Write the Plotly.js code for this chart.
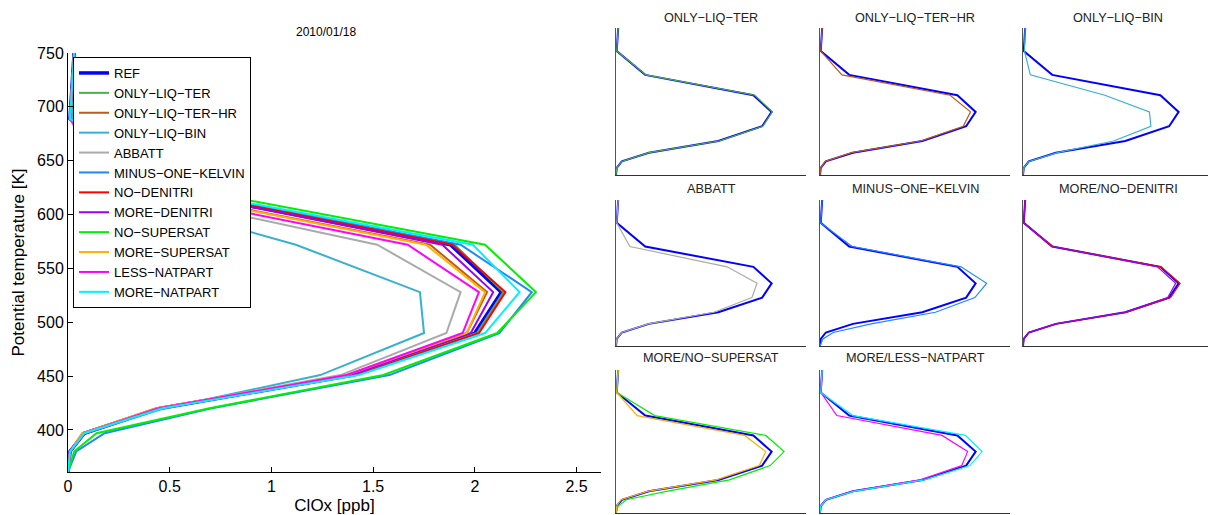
<!DOCTYPE html>
<html>
<head>
<meta charset="utf-8">
<script src="https://cdn.plot.ly/plotly-3.0.1.min.js"></script>
<style>html,body{margin:0;padding:0;background:#fff;}#chart{width:1208px;height:515px;}</style>
</head>
<body>
<div id="chart"></div>
<script>
// Potential temperature levels [K]
const theta = [361, 380, 397, 420, 451, 490, 528, 572, 626, 689, 750];

// ClOx [ppb] per experiment
const REF              = [0, 0.01, 0.08, 0.45, 1.40, 2.00, 2.13, 1.88, 0.40, 0.01, 0.03];
const ONLY_LIQ_TER     = [0, 0.01, 0.08, 0.45, 1.41, 2.01, 2.14, 1.90, 0.41, 0.01, 0.03];
const ONLY_LIQ_TER_HR  = [0, 0.01, 0.07, 0.43, 1.38, 1.96, 2.06, 1.78, 0.30, 0.01, 0.03];
const ONLY_LIQ_BIN     = [0, 0.01, 0.08, 0.47, 1.24, 1.75, 1.73, 1.12, 0.10, 0.02, 0.03];
const ABBATT           = [0, 0.01, 0.08, 0.44, 1.34, 1.86, 1.93, 1.52, 0.19, 0.01, 0.03];
const MINUS_ONE_KELVIN = [0, 0.04, 0.18, 0.70, 1.58, 2.12, 2.28, 1.93, 0.44, 0.01, 0.03];
const NO_DENITRI       = [0, 0.01, 0.08, 0.45, 1.42, 2.02, 2.15, 1.89, 0.41, 0.01, 0.03];
const MORE_DENITRI     = [0, 0.01, 0.08, 0.45, 1.39, 1.98, 2.09, 1.84, 0.39, 0.01, 0.03];
const NO_SUPERSAT      = [0, 0.03, 0.14, 0.69, 1.55, 2.11, 2.30, 2.05, 0.53, 0.01, 0.03];
const MORE_SUPERSAT    = [0, 0.01, 0.07, 0.43, 1.37, 1.96, 2.05, 1.76, 0.29, 0.01, 0.03];
const LESS_NATPART     = [0, 0.01, 0.08, 0.44, 1.37, 1.94, 2.02, 1.67, 0.23, 0.01, 0.03];
const MORE_NATPART     = [0, 0.01, 0.08, 0.46, 1.43, 2.05, 2.22, 1.99, 0.45, 0.01, 0.03];

const seriesNames = ['REF','ONLY−LIQ−TER','ONLY−LIQ−TER−HR','ONLY−LIQ−BIN','ABBATT','MINUS−ONE−KELVIN',
  'NO−DENITRI','MORE−DENITRI','NO−SUPERSAT','MORE−SUPERSAT','LESS−NATPART','MORE−NATPART'];
const seriesValues = [REF, ONLY_LIQ_TER, ONLY_LIQ_TER_HR, ONLY_LIQ_BIN, ABBATT, MINUS_ONE_KELVIN,
  NO_DENITRI, MORE_DENITRI, NO_SUPERSAT, MORE_SUPERSAT, LESS_NATPART, MORE_NATPART];
const seriesColors = ['#0000FF','#4DAF4A','#C05A14','#38B0CF','#AAAAAA','#1E88FF',
  '#FF0000','#9B00F0','#00F000','#FFB000','#FF00FF','#00F0FF'];

// Small panels: title and series indices (REF always first)
const panelTitles = ['ONLY−LIQ−TER','ONLY−LIQ−TER−HR','ONLY−LIQ−BIN','ABBATT','MINUS−ONE−KELVIN',
  'MORE/NO−DENITRI','MORE/NO−SUPERSAT','MORE/LESS−NATPART'];
const panelSeries = [[0,1],[0,2],[0,3],[0,4],[0,5],[0,6,7],[0,8,9],[0,10,11]];

const W = 1208, H = 515;
const FONT = 'Liberation Sans, Arial, Helvetica, sans-serif';
const traces = [];

// main plot
seriesNames.forEach((n, i) => {
  traces.push({
    x: seriesValues[i], y: theta, type: 'scatter', mode: 'lines', name: n,
    line: {color: seriesColors[i], width: i === 0 ? 3.5 : 2},
    xaxis: 'x', yaxis: 'y', hoverinfo: 'skip'
  });
});

// small panels
panelSeries.forEach((list, p) => {
  const ax = p + 2;
  list.forEach((si, k) => {
    traces.push({
      x: seriesValues[si], y: theta, type: 'scatter', mode: 'lines', showlegend: false,
      line: {color: seriesColors[si], width: k === 0 ? 2 : 1.2},
      xaxis: 'x' + ax, yaxis: 'y' + ax, hoverinfo: 'skip'
    });
  });
});

const px = v => v / W;
const py = v => 1 - v / H;

const layout = {
  width: W, height: H,
  margin: {l: 0, r: 0, t: 0, b: 0},
  paper_bgcolor: '#fff', plot_bgcolor: '#fff',
  font: {family: FONT, color: '#000'},
  showlegend: true,
  legend: {
    x: px(73), y: py(57), xanchor: 'left', yanchor: 'top',
    bgcolor: '#fff', bordercolor: '#000', borderwidth: 1,
    font: {family: FONT, size: 13, color: '#000'}, itemwidth: 30
  },
  xaxis: {
    domain: [px(68), px(601)], range: [0, 2.62], anchor: 'y',
    tickvals: [0, 0.5, 1, 1.5, 2, 2.5], ticktext: ['0','0.5','1','1.5','2','2.5'],
    ticks: 'inside', ticklen: 5, tickcolor: '#000', showline: true, linecolor: '#000', linewidth: 1,
    showgrid: false, zeroline: false, tickfont: {size: 16, family: FONT},
    title: {text: 'ClOx [ppb]', font: {size: 17, family: FONT}, standoff: 4}
  },
  yaxis: {
    domain: [py(472), py(53)], range: [361, 750], anchor: 'x',
    tickvals: [400, 450, 500, 550, 600, 650, 700, 750],
    ticks: 'inside', ticklen: 5, tickcolor: '#000', showline: true, linecolor: '#000', linewidth: 1,
    showgrid: false, zeroline: false, tickfont: {size: 16, family: FONT},
    title: {text: 'Potential temperature [K]', font: {size: 17, family: FONT}, standoff: 8}
  },
  annotations: [
    {text: '2010/01/18', x: px(326), y: py(32), xref: 'paper', yref: 'paper',
     showarrow: false, xanchor: 'center', yanchor: 'middle', font: {size: 12, family: FONT, color: '#000'}}
  ]
};

const colX = [[616, 806], [820, 1010], [1023, 1208]];
const rowY = [[28, 175], [200, 346], [370, 513]];
const titleY = [18, 189, 358];
panelTitles.forEach((t, p) => {
  const c = p % 3, r = Math.floor(p / 3);
  const ax = p + 2;
  const wpx = colX[c][1] - colX[c][0];
  layout['xaxis' + ax] = {
    domain: [px(colX[c][0]), px(colX[c][1])], range: [0, 2.6 * wpx / 190], anchor: 'y' + ax,
    showticklabels: false, ticks: '', showline: true, linecolor: '#333', linewidth: 1,
    showgrid: false, zeroline: false, fixedrange: true
  };
  layout['yaxis' + ax] = {
    domain: [py(rowY[r][1]), py(rowY[r][0])], range: [361, 750], anchor: 'x' + ax,
    showticklabels: false, ticks: '', showline: true, linecolor: '#555', linewidth: 1.5,
    showgrid: false, zeroline: false, fixedrange: true
  };
  layout.annotations.push({
    text: t, x: px((colX[c][0] + colX[c][0] + 190) / 2), y: py(titleY[r]), xref: 'paper', yref: 'paper',
    showarrow: false, xanchor: 'center', yanchor: 'middle', font: {size: 12.7, family: FONT, color: '#222'}
  });
});

Plotly.newPlot('chart', traces, layout, {staticPlot: true, displayModeBar: false});
</script>
</body>
</html>
